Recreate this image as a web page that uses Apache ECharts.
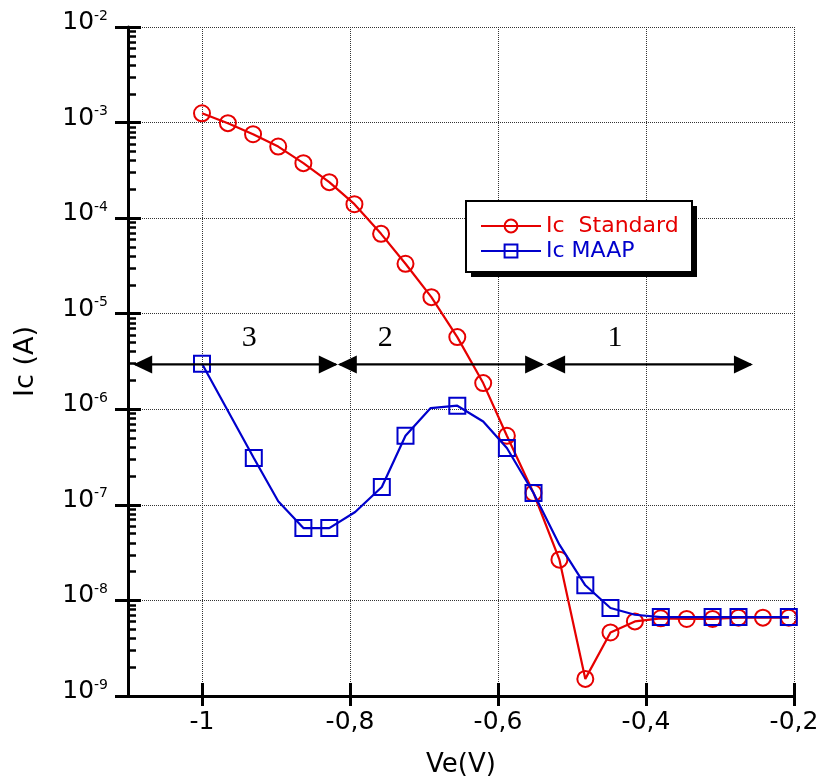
<!DOCTYPE html>
<html>
<head>
<meta charset="utf-8">
<script src="https://cdn.jsdelivr.net/npm/echarts@6/dist/echarts.min.js"></script>
<style>
html,body{margin:0;padding:0;background:#fff;}
#chart{width:816px;height:780px;}
</style>
</head>
<body>
<div id="chart"></div>
<script>
// ---- data ----
const vStd = [-1.000,-0.965,-0.931,-0.897,-0.863,-0.828,-0.794,-0.758,-0.725,-0.690,-0.655,-0.620,-0.588,-0.552,-0.517,-0.482,-0.448,-0.415,-0.380,-0.345,-0.310,-0.275,-0.242,-0.207];
const icStd = [1.25e-3,9.86e-4,7.56e-4,5.61e-4,3.76e-4,2.38e-4,1.40e-4,6.85e-5,3.33e-5,1.49e-5,5.69e-6,1.88e-6,5.28e-7,1.33e-7,2.67e-8,1.51e-9,4.62e-9,6.03e-9,6.5e-9,6.4e-9,6.4e-9,6.6e-9,6.6e-9,6.6e-9];

const vMaap = [-1.000,-0.930,-0.897,-0.863,-0.828,-0.793,-0.757,-0.725,-0.691,-0.655,-0.620,-0.588,-0.552,-0.517,-0.482,-0.448,-0.415,-0.380,-0.345,-0.310,-0.275,-0.242,-0.207];
const icMaap = [2.99e-6,3.09e-7,1.09e-7,5.71e-8,5.71e-8,8.41e-8,1.54e-7,5.28e-7,1.03e-6,1.09e-6,7.45e-7,3.93e-7,1.33e-7,3.83e-8,1.44e-8,8.33e-9,7.08e-9,6.7e-9,6.7e-9,6.7e-9,6.7e-9,6.7e-9,6.7e-9];
const maapMarked = [1,1,0,1,1,0,1,1,0,1,0,1,1,0,1,1,0,1,0,1,1,0,1];

const seriesNames = ['Ic  Standard', 'Ic MAAP'];

const xTickValues = [-1, -0.8, -0.6, -0.4, -0.2];
const yMin = 1e-9, yMax = 1e-2;
const yMinorTicks = [];
for (let e = -9; e < -2; e++) { for (let m = 2; m <= 9; m++) yMinorTicks.push(m * Math.pow(10, e)); }

// region arrows: from, to (V), level (A), label x, label y
const arrowFrom = [-1.093, -0.8165, -0.535];
const arrowTo = [-0.8165, -0.5377, -0.2555];
const arrowLevel = 2.95e-6;
const regionNames = ['3', '2', '1'];
const regionLabelX = [-0.936, -0.7525, -0.442];
const regionLabelY = 5.6e-6;

// ---- style ----
const RED = '#e60000', BLUE = '#0000cc';
const FONT = 'DejaVu Sans';

const chart = echarts.init(document.getElementById('chart'), null, {renderer: 'canvas'});

const gridRect = {left: 128, right: 22, top: 27, bottom: 84, containLabel: false, outerBoundsMode: 'none'};

const stdData = vStd.map((v, i) => [v, icStd[i]]);
const maapData = vMaap.map((v, i) => maapMarked[i] ? [v, icMaap[i]] : {value: [v, icMaap[i]], symbol: 'none'});
const arrowData = arrowFrom.map((f, i) => [f, arrowTo[i], arrowLevel, regionLabelX[i], regionLabelY]);

function yLabel(v) {
  const e = Math.round(Math.log10(v));
  return '{b|10}{s|' + e + '}';
}

const option = {
  backgroundColor: '#fff',
  animation: false,
  grid: [
    Object.assign({}, gridRect),
    Object.assign({}, gridRect),
    Object.assign({}, gridRect)
  ],
  xAxis: [
    {
      type: 'value', gridIndex: 0, min: -1.1, max: -0.2, position: 'bottom',
      axisLine: {lineStyle: {color: '#000', width: 3}},
      axisTick: {customValues: xTickValues, length: 10, lineStyle: {color: '#000', width: 3}},
      axisLabel: {customValues: xTickValues, formatter: v => String(v).replace('.', ','),
        fontFamily: FONT, fontSize: 25, color: '#000', margin: 14},
      splitLine: {show: true, lineStyle: {color: '#333', width: 1, type: [1, 1]}},
      name: 'Ve(V)', nameLocation: 'middle', nameGap: 56,
      nameTextStyle: {fontFamily: FONT, fontSize: 26, color: '#000'}
    },
    {
      type: 'value', gridIndex: 1, min: -1.1, max: -0.2, position: 'bottom',
      axisLine: {show: false},
      axisTick: {inside: true, customValues: xTickValues, length: 13, lineStyle: {color: '#000', width: 3}},
      axisLabel: {show: false}, splitLine: {show: false}
    },
    {
      type: 'value', gridIndex: 2, min: -1.1, max: -0.2, show: false
    }
  ],
  yAxis: [
    {
      type: 'log', logBase: 10, gridIndex: 0, min: yMin, max: yMax, interval: 1, position: 'left',
      axisLine: {lineStyle: {color: '#000', width: 3}},
      axisTick: {length: 13, lineStyle: {color: '#000', width: 3}},
      axisLabel: {formatter: yLabel, margin: 20, color: '#000', fontFamily: FONT, fontSize: 25,
        padding: [0, 0, 9, 0],
        rich: {
          b: {fontFamily: FONT, fontSize: 25, color: '#000', lineHeight: 27},
          s: {fontFamily: FONT, fontSize: 14, color: '#000', verticalAlign: 'top', lineHeight: 14}
        }},
      splitLine: {show: true, lineStyle: {color: '#333', width: 1, type: [1, 1]}},
      minorTick: {show: false},
      name: 'Ic (A)', nameLocation: 'middle', nameGap: 89,
      nameTextStyle: {fontFamily: FONT, fontSize: 27, color: '#000'}
    },
    {
      type: 'log', logBase: 10, gridIndex: 1, min: yMin, max: yMax, interval: 1, position: 'left',
      axisLine: {show: false},
      axisTick: {inside: true, length: 13, lineStyle: {color: '#000', width: 3}},
      axisLabel: {show: false}, splitLine: {show: false}
    },
    {
      type: 'log', logBase: 10, gridIndex: 2, min: yMin, max: yMax, position: 'left',
      axisLine: {show: false},
      axisTick: {inside: true, length: 8, customValues: yMinorTicks, lineStyle: {color: '#000', width: 2.5}},
      axisLabel: {show: false}, splitLine: {show: false}
    }
  ],
  legend: {
    orient: 'vertical', left: 480, top: 215, padding: 0, itemWidth: 60, itemHeight: 16, itemGap: 3,
    z: 200,
    data: [
      {name: seriesNames[0], textStyle: {color: RED}},
      {name: seriesNames[1], textStyle: {color: BLUE}}
    ],
    textStyle: {fontFamily: FONT, fontSize: 22}
  },
  graphic: {
    elements: [
      {type: 'rect', z: 100, shape: {x: 471, y: 206, width: 226, height: 71}, style: {fill: '#000'}},
      {type: 'rect', z: 101, shape: {x: 466, y: 201, width: 226, height: 71}, style: {fill: '#fff', stroke: '#000', lineWidth: 2}}
    ]
  },
  series: [
    {
      name: seriesNames[0], type: 'line', xAxisIndex: 0, yAxisIndex: 0, data: stdData,
      symbol: 'circle', symbolSize: 16, color: RED,
      lineStyle: {color: RED, width: 2.2},
      itemStyle: {color: 'rgba(255,255,255,0)', borderColor: RED, borderWidth: 2},
      z: 3
    },
    {
      name: seriesNames[1], type: 'line', xAxisIndex: 0, yAxisIndex: 0, data: maapData,
      symbol: 'rect', symbolSize: 16, color: BLUE,
      lineStyle: {color: BLUE, width: 2.2},
      itemStyle: {color: 'rgba(255,255,255,0)', borderColor: BLUE, borderWidth: 2},
      z: 4
    },
    {
      name: 'regions', type: 'custom', xAxisIndex: 0, yAxisIndex: 0, data: arrowData,
      z: 5, silent: true,
      renderItem: function (params, api) {
        const i = params.dataIndex;
        const p1 = api.coord([api.value(0), api.value(2)]);
        const p2 = api.coord([api.value(1), api.value(2)]);
        const pl = api.coord([api.value(3), api.value(4)]);
        const L = 19, H = 9;
        return {
          type: 'group',
          children: [
            {type: 'line', shape: {x1: p1[0] + 2, y1: p1[1], x2: p2[0] - 2, y2: p2[1]}, style: {stroke: '#000', lineWidth: 2.2}},
            {type: 'polygon', shape: {points: [[p1[0], p1[1]], [p1[0] + L, p1[1] - H], [p1[0] + L, p1[1] + H]]}, style: {fill: '#000'}},
            {type: 'polygon', shape: {points: [[p2[0], p2[1]], [p2[0] - L, p2[1] - H], [p2[0] - L, p2[1] + H]]}, style: {fill: '#000'}},
            {type: 'text', style: {x: pl[0], y: pl[1], text: regionNames[i], fill: '#000',
              font: '30px "Liberation Serif"', align: 'center', verticalAlign: 'middle'}}
          ]
        };
      }
    }
  ]
};
chart.setOption(option);
</script>
</body>
</html>
